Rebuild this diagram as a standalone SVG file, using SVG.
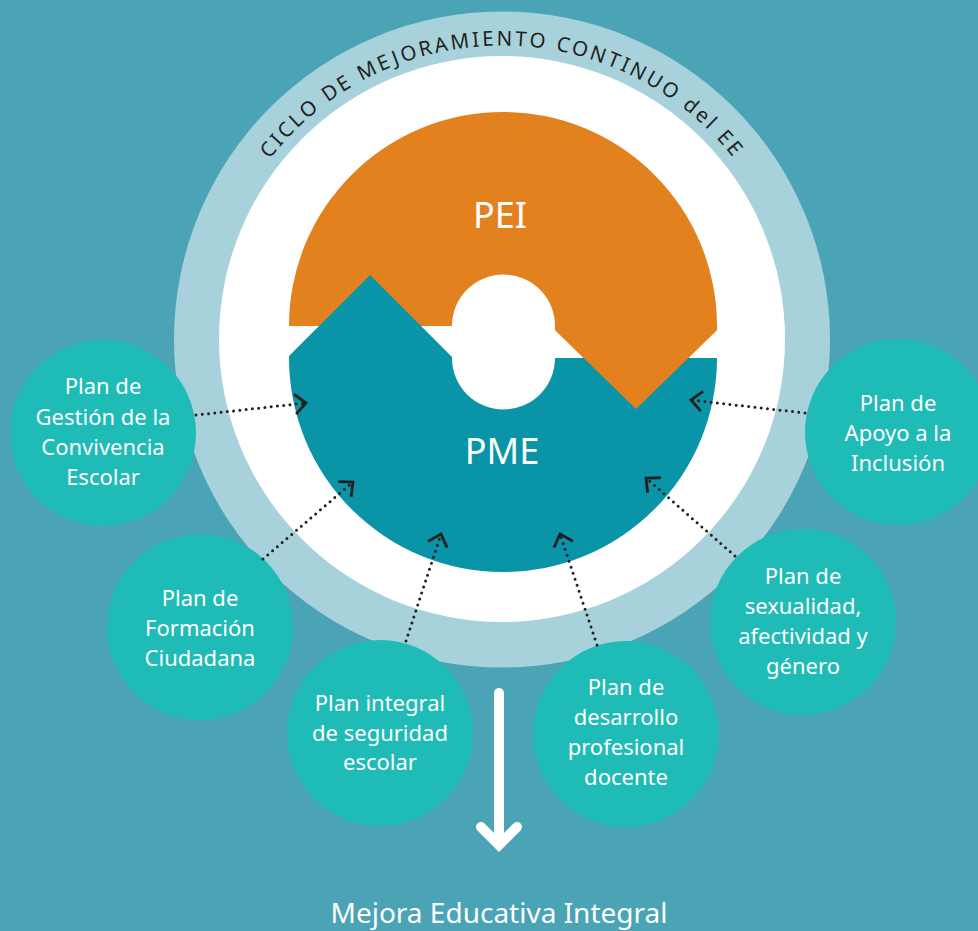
<svg xmlns="http://www.w3.org/2000/svg" width="978" height="931" viewBox="0 0 978 931">
<style>
.plan{fill:#1FBBB7}
.pt{font-family:"Noto Sans","Open Sans","DejaVu Sans",sans-serif;font-size:22px;fill:#fff;text-anchor:middle}
.big{font-family:"Noto Sans","Open Sans","DejaVu Sans",sans-serif;font-size:36px;fill:#fff;text-anchor:middle}
.dot{fill:none;stroke:#231F20;stroke-width:3;stroke-linecap:round;stroke-dasharray:0 6.3;marker-end:url(#chev)}
</style>
<defs>
<marker id="chev" markerUnits="userSpaceOnUse" markerWidth="30" markerHeight="30" viewBox="-15 -15 30 30" refX="0" refY="0" orient="auto" overflow="visible">
<path d="M-11,-10 L0,0 L-11,10" fill="none" stroke="#231F20" stroke-width="2.8" stroke-linecap="butt" stroke-linejoin="miter"/>
</marker>
<path id="arcPath" d="M208,339.5 A294,294 0 0 1 796,339.5"/>
</defs>
<rect width="978" height="931" fill="#4BA3B6"/>
<g id="cycle">
<circle cx="502" cy="339.5" r="328" fill="#A8D2DB"/>
<circle cx="502" cy="339" r="283" fill="#FFFFFF"/>
<text font-family="'Noto Sans','Open Sans','DejaVu Sans',sans-serif" font-size="20.5" fill="#231F20" letter-spacing="2.8" text-anchor="middle"><textPath href="#arcPath" startOffset="50%">CICLO DE MEJORAMIENTO CONTINUO del EE</textPath></text>
</g>
<g id="pei">
<path d="M289,326 A214,214 0 0 1 717,326 L717,330 L636,409 L555,330 L555,326 A51,51 0 0 0 452,326 Z" fill="#E4811F"/>
<text class="big" x="500" y="228">PEI</text>
</g>
<g id="pme">
<path d="M717,358 L555,358 A51,51 0 0 1 452,358 L452,357 L370,275 L289,356 L289,358 A214,214 0 0 0 717,358 Z" fill="#0A94A8"/>
<path d="M717,330 L636,409 L555,330 L555,326 L717,326 Z" fill="#E4811F"/>
<text class="big" x="502" y="464">PME</text>
</g>
<g id="plan-convivencia">
<circle class="plan" cx="103" cy="433" r="93"/>
<text class="pt" x="103" y="394">Plan de</text>
<text class="pt" x="103" y="425">Gestión de la</text>
<text class="pt" x="103" y="455">Convivencia</text>
<text class="pt" x="103" y="485">Escolar</text>
</g>
<g id="plan-ciudadana">
<circle class="plan" cx="200" cy="627" r="93"/>
<text class="pt" x="200" y="606">Plan de</text>
<text class="pt" x="200" y="636">Formación</text>
<text class="pt" x="200" y="666">Ciudadana</text>
</g>
<g id="plan-seguridad">
<circle class="plan" cx="380" cy="733" r="93"/>
<text class="pt" x="380" y="711">Plan integral</text>
<text class="pt" x="380" y="741">de seguridad</text>
<text class="pt" x="380" y="770">escolar</text>
</g>
<g id="plan-docente">
<circle class="plan" cx="626" cy="734" r="93"/>
<text class="pt" x="626" y="695">Plan de</text>
<text class="pt" x="626" y="725">desarrollo</text>
<text class="pt" x="626" y="755">profesional</text>
<text class="pt" x="626" y="785">docente</text>
</g>
<g id="plan-sexualidad">
<circle class="plan" cx="803" cy="622" r="93"/>
<text class="pt" x="803" y="584">Plan de</text>
<text class="pt" x="803" y="614">sexualidad,</text>
<text class="pt" x="803" y="644">afectividad y</text>
<text class="pt" x="803" y="674">género</text>
</g>
<g id="plan-inclusion">
<circle class="plan" cx="898" cy="432" r="93"/>
<text class="pt" x="898" y="411">Plan de</text>
<text class="pt" x="898" y="441">Apoyo a la</text>
<text class="pt" x="898" y="471">Inclusión</text>
</g>
<g id="connectors">
<line class="dot" x1="196" y1="415" x2="306" y2="403"/>
<line class="dot" x1="263" y1="559" x2="353" y2="482"/>
<line class="dot" x1="406" y1="641" x2="441" y2="534"/>
<line class="dot" x1="597" y1="645" x2="560" y2="534"/>
<line class="dot" x1="735" y1="556" x2="646" y2="478"/>
<line class="dot" x1="805" y1="413" x2="691" y2="400"/>
</g>
<g id="result">
<line x1="499" y1="693" x2="499" y2="843" stroke="#FFFFFF" stroke-width="10" stroke-linecap="round"/>
<polyline points="481,827 499,845 517,827" fill="none" stroke="#FFFFFF" stroke-width="10" stroke-linecap="round" stroke-linejoin="miter"/>
<text x="499" y="923" font-family="'Noto Sans','Open Sans','DejaVu Sans',sans-serif" font-size="28" fill="#FFFFFF" text-anchor="middle">Mejora Educativa Integral</text>
</g>
</svg>
